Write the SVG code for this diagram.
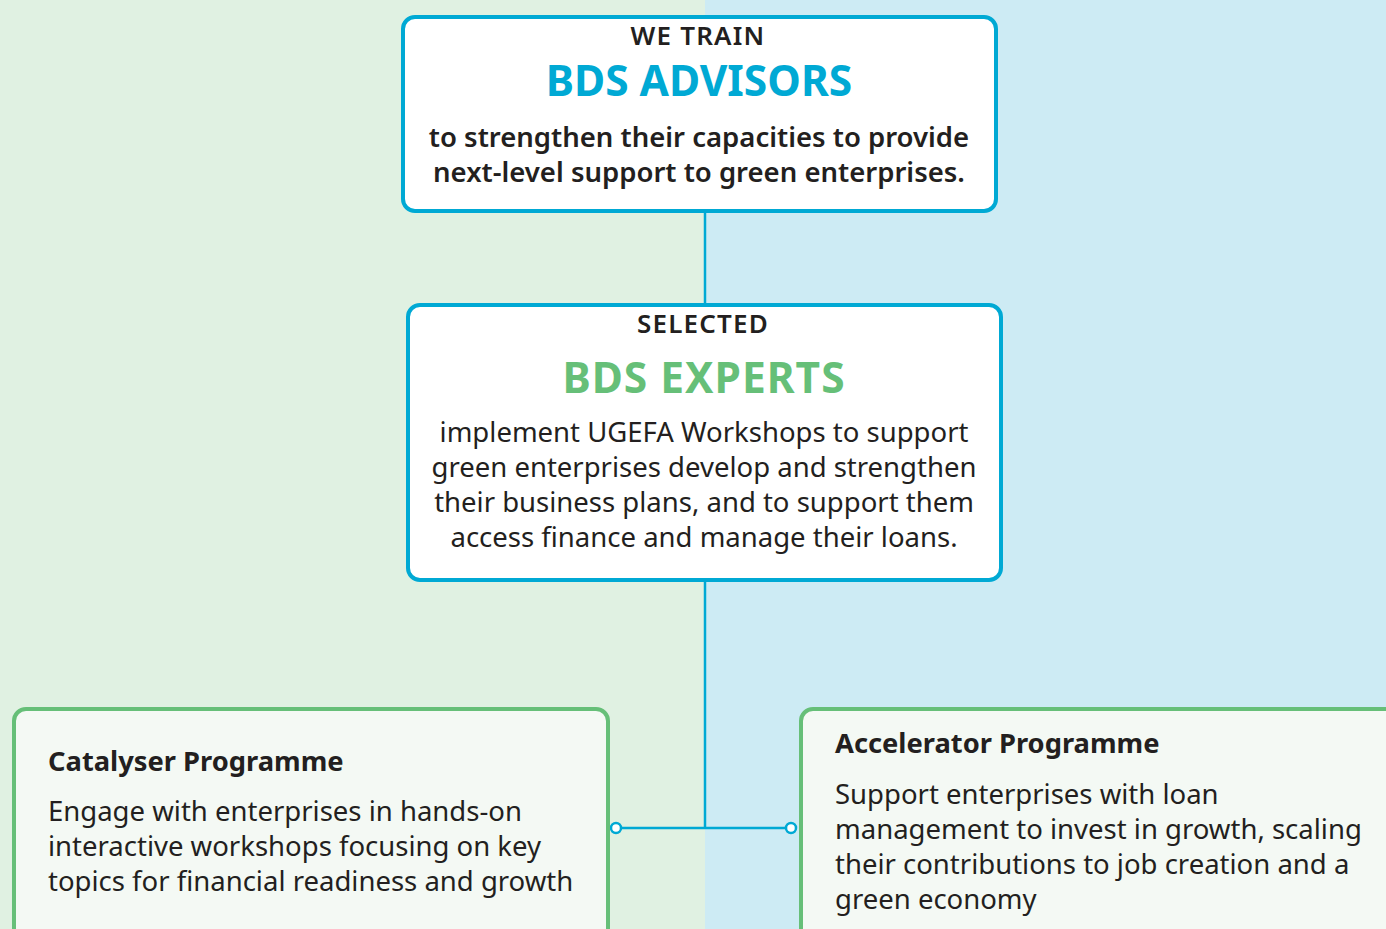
<svg xmlns="http://www.w3.org/2000/svg" width="1386" height="929" viewBox="0 0 1386 929">
<style>
.t{font-family:"Noto Sans","Liberation Sans",sans-serif;fill:#231f20}
.c{text-anchor:middle}
.lbl{font-size:26px;font-weight:600;letter-spacing:1.2px}
.big{font-size:42.5px;font-weight:700}
.sb{font-size:27.5px;font-weight:600}
.body{font-size:27.5px}
.hd{font-size:27.3px;font-weight:700}
.bluebox{fill:#ffffff;stroke:#00a9d4;stroke-width:4}
.greenbox{fill:#f4f9f4;stroke:#66bf78;stroke-width:4}
.conn{stroke:#00a9d4;stroke-width:2.5;fill:none}
</style>
<rect x="0" y="0" width="705" height="929" fill="#e0f1e2"/>
<rect x="705" y="0" width="681" height="929" fill="#cdebf4"/>
<g id="connectors">
<line class="conn" x1="705" y1="212" x2="705" y2="304"/>
<line class="conn" x1="705" y1="582" x2="705" y2="828"/>
<line class="conn" x1="616" y1="828" x2="791" y2="828"/>
<circle cx="616" cy="828" r="5" fill="#ffffff" stroke="#00a9d4" stroke-width="2.5"/>
<circle cx="791" cy="828" r="5" fill="#ffffff" stroke="#00a9d4" stroke-width="2.5"/>
</g>
<g id="advisors">
<rect class="bluebox" x="403" y="17" width="593" height="194" rx="12"/>
<text class="t c lbl" x="698" y="45">WE TRAIN</text>
<text class="t c big" x="699" y="96" style="fill:#00a9d4">BDS ADVISORS</text>
<text class="t c sb" x="699" y="147">to strengthen their capacities to provide</text>
<text class="t c sb" x="699" y="182">next-level support to green enterprises.</text>
</g>
<g id="experts">
<rect class="bluebox" x="408" y="305" width="593" height="275" rx="12"/>
<text class="t c lbl" x="703" y="333">SELECTED</text>
<text class="t c big" x="704" y="393" style="fill:#66bf78;letter-spacing:1px">BDS EXPERTS</text>
<text class="t c body" x="704" y="442">implement UGEFA Workshops to support</text>
<text class="t c body" x="704" y="477">green enterprises develop and strengthen</text>
<text class="t c body" x="704" y="512">their business plans, and to support them</text>
<text class="t c body" x="704" y="547">access finance and manage their loans.</text>
</g>
<g id="catalyser">
<rect class="greenbox" x="14" y="709" width="594" height="240" rx="12"/>
<text class="t hd" x="48" y="771">Catalyser Programme</text>
<text class="t body" x="48" y="821">Engage with enterprises in hands-on</text>
<text class="t body" x="48" y="856">interactive workshops focusing on key</text>
<text class="t body" x="48" y="891">topics for financial readiness and growth</text>
</g>
<g id="accelerator">
<rect class="greenbox" x="801" y="709" width="600" height="240" rx="12"/>
<text class="t hd" x="835" y="753">Accelerator Programme</text>
<text class="t body" x="835" y="804">Support enterprises with loan</text>
<text class="t body" x="835" y="839">management to invest in growth, scaling</text>
<text class="t body" x="835" y="874">their contributions to job creation and a</text>
<text class="t body" x="835" y="909">green economy</text>
</g>
</svg>
